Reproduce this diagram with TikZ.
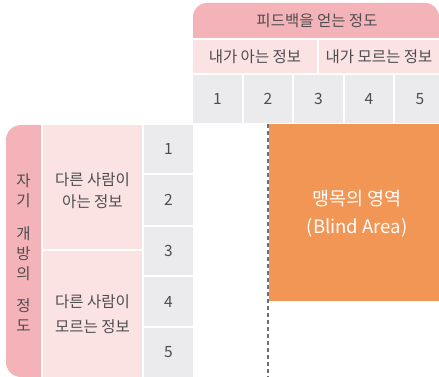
\documentclass[tikz,border=0pt]{standalone}
\usepackage{fontspec}
\setmainfont{Noto Sans CJK KR}
\definecolor{hdr}{HTML}{F4B3B8}
\definecolor{sub}{HTML}{FBE3E4}
\definecolor{num}{HTML}{EBEBED}
\definecolor{blind}{HTML}{F29656}
\definecolor{txt}{HTML}{4D4D4F}
\definecolor{dashc}{HTML}{6D6E71}
\begin{document}
\begin{tikzpicture}[x=1pt,y=-1pt,
  cell/.style={inner sep=0pt, outer sep=0pt, text=txt, font=\fontsize{15.5}{20}\selectfont, align=center},
  numcell/.style={cell, fill=num},
  subcell/.style={cell, fill=sub}]
\useasboundingbox (0,0) rectangle (439,377);
% top header
\begin{scope}
  \clip (193,3) rectangle (439,38);
  \fill[hdr, rounded corners=14pt] (193,3) rectangle (439,70);
\end{scope}
\node[cell] (hdrtxt) at (317,20.5) {피드백을 얻는 정도};
% second header row
\node[subcell, minimum width=124, minimum height=33] (know) at (255,56.5) {내가 아는 정보};
\node[subcell, minimum width=120, minimum height=33] (dontknow) at (379,56.5) {내가 모르는 정보};
% number row
\node[numcell, minimum width=49, minimum height=48] (c1) at (217.5,99) {1};
\node[numcell, minimum width=48, minimum height=48] (c2) at (268,99) {2};
\node[numcell, minimum width=49, minimum height=48] (c3) at (318.5,99) {3};
\node[numcell, minimum width=48, minimum height=48] (c4) at (369,99) {4};
\node[numcell, minimum width=44, minimum height=48] (c5) at (417,99) {};
\node[cell] (c5t) at (420,99) {5};
% left header
\begin{scope}
  \clip (6,125) rectangle (41,377);
  \fill[hdr, rounded corners=15pt] (6,125) rectangle (90,377);
\end{scope}
\node[cell] (lefttxt) at (23.5,253) {자\\기\\[13pt]개\\방\\의\\[12pt]정\\도};
% second column
\node[subcell, minimum width=99, minimum height=124] (otherknow) at (92.5,187) {};
\node[cell, font=\fontsize{15.5}{22}\selectfont] (otherknowt) at (92.5,190.5) {다른 사람이\\아는 정보};
\node[subcell, minimum width=99, minimum height=126, font=\fontsize{15.5}{25}\selectfont] (otherdont) at (92.5,314) {다른 사람이\\모르는 정보};
% number column
\node[numcell, minimum width=49, minimum height=48] (r1) at (168.5,149) {1};
\node[numcell, minimum width=49, minimum height=50] (r2) at (168.5,200) {2};
\node[numcell, minimum width=49, minimum height=48] (r3) at (168.5,251) {3};
\node[numcell, minimum width=49, minimum height=49] (r4) at (168.5,301.5) {4};
\node[numcell, minimum width=49, minimum height=49] (r5) at (168.5,352.5) {5};
% blind area
\node[fill=blind, inner sep=0pt, minimum width=170, minimum height=177] (blindbox) at (354,212.5) {};
\node[inner sep=0pt, text=white, align=center, font=\fontsize{18.5}{28}\selectfont] (blindtxt) at (357,214) {맹목의 영역\\(Blind Area)};
% dashed line
\coordinate (dtop) at (268,124);
\coordinate (dbot) at (268,377);
\draw[dashc, line width=1.2pt, dash pattern=on 4pt off 3pt] (dtop) -- (dbot);
\end{tikzpicture}
\end{document}
